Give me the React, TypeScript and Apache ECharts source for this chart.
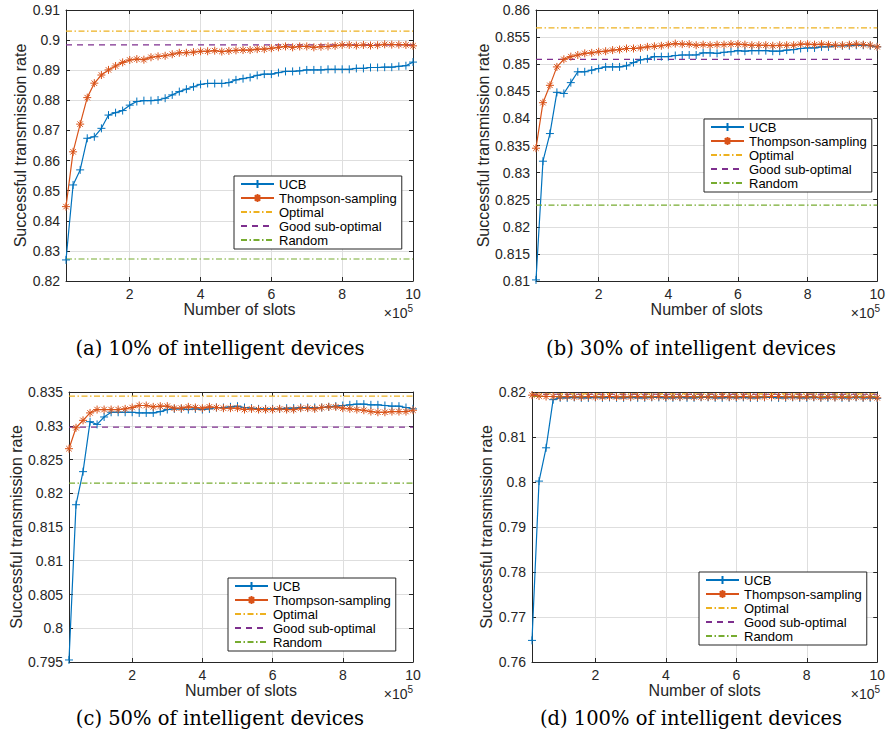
import React, { useEffect, useRef } from 'react';
import * as echarts from 'echarts';

// Number of slots (x values)
const slots = [20000, 40000, 60000, 80000, 100000, 120000, 140000, 160000, 180000, 200000,
  220000, 240000, 260000, 280000, 300000, 320000, 340000, 360000, 380000, 400000,
  420000, 440000, 460000, 480000, 500000, 520000, 540000, 560000, 580000, 600000,
  620000, 640000, 660000, 680000, 700000, 720000, 740000, 760000, 780000, 800000,
  820000, 840000, 860000, 880000, 900000, 920000, 940000, 960000, 980000, 1000000];

const seriesNames = ['UCB', 'Thompson-sampling', 'Optimal', 'Good sub-optimal', 'Random'];
const captions = ['(a) 10% of intelligent devices', '(b) 30% of intelligent devices',
  '(c) 50% of intelligent devices', '(d) 100% of intelligent devices'];

// (a) 10%
const ucbA = [0.827, 0.8519, 0.8569, 0.8674, 0.8679, 0.8707, 0.8751, 0.8759, 0.8766, 0.8784,
  0.8796, 0.8799, 0.8799, 0.8801, 0.8807, 0.8818, 0.8829, 0.8837, 0.8845, 0.8853,
  0.8856, 0.8856, 0.8856, 0.8859, 0.8868, 0.8872, 0.8876, 0.8883, 0.8887, 0.8887,
  0.8892, 0.8896, 0.8896, 0.8898, 0.8901, 0.8901, 0.8901, 0.8903, 0.8903, 0.8903,
  0.8903, 0.8906, 0.8906, 0.8909, 0.8909, 0.891, 0.891, 0.8913, 0.8915, 0.8927];
const tsA = [0.8447, 0.8629, 0.8721, 0.8809, 0.8857, 0.8884, 0.8901, 0.8914, 0.8926, 0.8934,
  0.8937, 0.8935, 0.8943, 0.8946, 0.8948, 0.8953, 0.8958, 0.8958, 0.896, 0.8963,
  0.8963, 0.8965, 0.8962, 0.8964, 0.8966, 0.8967, 0.8967, 0.897, 0.897, 0.8973,
  0.8976, 0.8979, 0.8976, 0.8979, 0.8979, 0.8976, 0.8978, 0.8979, 0.8981, 0.8984,
  0.8984, 0.8982, 0.8984, 0.8982, 0.8983, 0.8986, 0.8985, 0.8985, 0.8984, 0.8981];

// (b) 30%
const ucbB = [0.8102, 0.8321, 0.8372, 0.8448, 0.8446, 0.8466, 0.8486, 0.8486, 0.8489, 0.8492,
  0.8495, 0.8495, 0.8495, 0.8497, 0.8503, 0.8508, 0.851, 0.8514, 0.8514, 0.8514,
  0.8516, 0.8517, 0.8517, 0.8517, 0.8521, 0.8521, 0.852, 0.8522, 0.8523, 0.8525,
  0.8524, 0.8525, 0.8525, 0.8525, 0.8524, 0.8524, 0.8526, 0.8527, 0.8529, 0.853,
  0.853, 0.8532, 0.8532, 0.8534, 0.8534, 0.8534, 0.8535, 0.8535, 0.8534, 0.8532];
const tsB = [0.8345, 0.8429, 0.8461, 0.8495, 0.8509, 0.8514, 0.8517, 0.852, 0.8521, 0.8523,
  0.8524, 0.8526, 0.8527, 0.8529, 0.8529, 0.853, 0.8532, 0.8533, 0.8534, 0.8536,
  0.8538, 0.8537, 0.8537, 0.8535, 0.8536, 0.8535, 0.8536, 0.8536, 0.8537, 0.8537,
  0.8536, 0.8535, 0.8535, 0.8535, 0.8534, 0.8535, 0.8535, 0.8535, 0.8537, 0.8537,
  0.8536, 0.8537, 0.8536, 0.8535, 0.8535, 0.8536, 0.8537, 0.8536, 0.8535, 0.8532];

// (c) 50%
const ucbC = [0.7953, 0.8183, 0.8232, 0.8306, 0.8302, 0.8313, 0.832, 0.832, 0.832, 0.832,
  0.8319, 0.8319, 0.8319, 0.8321, 0.8324, 0.8325, 0.8325, 0.8324, 0.8325, 0.8324,
  0.8325, 0.8327, 0.8327, 0.8328, 0.8329, 0.8327, 0.8326, 0.8325, 0.8325, 0.8325,
  0.8325, 0.8326, 0.8326, 0.8327, 0.8327, 0.8327, 0.8327, 0.8328, 0.8329, 0.833,
  0.8331, 0.8332, 0.8332, 0.8331, 0.8331, 0.833, 0.8329, 0.8329, 0.8327, 0.8325];
const tsC = [0.8266, 0.8297, 0.8308, 0.8319, 0.8324, 0.8324, 0.8324, 0.8324, 0.8325, 0.8327,
  0.833, 0.833, 0.8328, 0.8329, 0.8329, 0.8326, 0.8326, 0.8328, 0.8327, 0.8326,
  0.8328, 0.8327, 0.8326, 0.8326, 0.8326, 0.8324, 0.8325, 0.8324, 0.8324, 0.8324,
  0.8325, 0.8324, 0.8324, 0.8326, 0.8326, 0.8325, 0.8327, 0.8328, 0.8328, 0.8326,
  0.8325, 0.8324, 0.8323, 0.8321, 0.832, 0.832, 0.8321, 0.8321, 0.8321, 0.8323];

// (d) 100%
const ucbD = [0.7648, 0.8002, 0.8076, 0.8183, 0.8187, 0.8187, 0.8188, 0.8187, 0.8187, 0.8188,
  0.8187, 0.8188, 0.8187, 0.8187, 0.8188, 0.8187, 0.8187, 0.8188, 0.8188, 0.8187,
  0.8187, 0.8188, 0.8187, 0.8187, 0.8188, 0.8188, 0.8187, 0.8187, 0.8188, 0.8187,
  0.8188, 0.8187, 0.8187, 0.8188, 0.8188, 0.8187, 0.8187, 0.8188, 0.8187, 0.8187,
  0.8188, 0.8187, 0.8187, 0.8188, 0.8187, 0.8187, 0.8188, 0.8187, 0.8187, 0.8186];
const tsD = [0.8193, 0.8191, 0.819, 0.819, 0.8189, 0.819, 0.8189, 0.8189, 0.819, 0.8189,
  0.8189, 0.819, 0.8189, 0.8189, 0.8189, 0.819, 0.8189, 0.8189, 0.819, 0.8189,
  0.8189, 0.8189, 0.819, 0.8189, 0.8189, 0.8189, 0.8189, 0.819, 0.8189, 0.8189,
  0.819, 0.8189, 0.8189, 0.8189, 0.819, 0.819, 0.8189, 0.8189, 0.8189, 0.8189,
  0.8189, 0.8188, 0.8189, 0.8188, 0.8189, 0.8188, 0.8189, 0.8188, 0.8189, 0.8187];

// constant reference levels per panel (a, b, c, d)
const optimal = [0.903, 0.8567, 0.8344, 0.8196];
const goodSubOptimal = [0.8984, 0.8509, 0.8298, 0.8195];
const randomLevel = [0.8273, 0.824, 0.8215, 0.819];

// y-axis tick ranges per panel
const yMin = [0.82, 0.81, 0.795, 0.76];
const yMax = [0.91, 0.86, 0.835, 0.82];
const yStep = [0.01, 0.005, 0.005, 0.01];
const xTickStep = 200000;

const ucbAll = [ucbA, ucbB, ucbC, ucbD];
const tsAll = [tsA, tsB, tsC, tsD];

// layout
const grids = [
  { left: 66, top: 10, width: 347, height: 271 },
  { left: 536, top: 10, width: 344, height: 271 },
  { left: 69, top: 392, width: 344, height: 270 },
  { left: 532, top: 392, width: 348, height: 270 },
];
const legendPos = [[234, 176], [704, 119], [228, 578], [699, 572]];
const yNameGaps = [37, 45, 44, 36];
const captionPos = [[220, 348], [691, 348], [220, 718], [691, 718]];

const FONT = 'Liberation Sans';
const AXIS = '#262626';
const GRIDC = '#dedede';
const C_UCB = '#0072BD';
const C_TS = '#D95319';
const C_OPT = '#EDB120';
const C_SUB = '#7E2F8E';
const C_RND = '#77AC30';

const PLUS = 'path://M5,0L5,10M0,5L10,5';
const STAR = 'path://M5,0L5,10M0,5L10,5M1.6,1.6L8.4,8.4M1.6,8.4L8.4,1.6';

const fmtY = (v: number) => String(parseFloat(v.toFixed(3)));

export default function App() {
  const ref = useRef<HTMLDivElement>(null);
  useEffect(() => {
    if (!ref.current) return;
    const chart = echarts.init(ref.current, undefined, { renderer: 'svg' });
    const xAxis: any[] = [];
    const yAxis: any[] = [];
    const series: any[] = [];
    const legend: any[] = [];
    const graphic: any[] = [];
    const tickStyle = { inside: true, length: 4, lineStyle: { color: AXIS, width: 1 } };
    const lineAx = { show: true, onZero: false, lineStyle: { color: AXIS, width: 1 } };
    for (let p = 0; p < 4; p++) {
      xAxis.push({
        type: 'value', gridIndex: p, min: slots[0], max: slots[slots.length - 1],
        minInterval: xTickStep, maxInterval: xTickStep,
        axisLine: lineAx, axisTick: tickStyle,
        axisLabel: {
          showMinLabel: false, margin: 6, fontFamily: FONT, fontSize: 14, color: AXIS,
          formatter: (v: number) => String(Math.round(v / 1e5)),
        },
        splitLine: { show: true, lineStyle: { color: GRIDC, width: 1 } },
        name: 'Number of slots', nameLocation: 'middle', nameGap: 19,
        nameTextStyle: { fontFamily: FONT, fontSize: 16, color: AXIS },
      });
      yAxis.push({
        type: 'value', gridIndex: p, min: yMin[p], max: yMax[p], interval: yStep[p],
        axisLine: lineAx, axisTick: tickStyle,
        axisLabel: { margin: 6, fontFamily: FONT, fontSize: 14, color: AXIS, formatter: fmtY },
        splitLine: { show: true, lineStyle: { color: GRIDC, width: 1 } },
        name: 'Successful transmission rate', nameLocation: 'middle', nameGap: yNameGaps[p],
        nameTextStyle: { fontFamily: FONT, fontSize: 16, color: AXIS },
      });
    }
    for (let p = 0; p < 4; p++) {
      xAxis.push({
        type: 'value', gridIndex: p, position: 'top', min: slots[0], max: slots[slots.length - 1],
        minInterval: xTickStep, maxInterval: xTickStep,
        axisLine: lineAx, axisTick: tickStyle, axisLabel: { show: false }, splitLine: { show: false },
      });
      yAxis.push({
        type: 'value', gridIndex: p, position: 'right', min: yMin[p], max: yMax[p], interval: yStep[p],
        axisLine: lineAx, axisTick: tickStyle, axisLabel: { show: false }, splitLine: { show: false },
      });
    }
    for (let p = 0; p < 4; p++) {
      const first = slots[0];
      const last = slots[slots.length - 1];
      const common = { xAxisIndex: p, yAxisIndex: p, silent: true, emphasis: { disabled: true } };
      series.push({
        ...common, type: 'line', name: 'UCB',
        data: slots.map((s, i) => [s, ucbAll[p][i]]),
        symbol: PLUS, symbolSize: 8, showSymbol: true,
        lineStyle: { color: C_UCB, width: 1.2 },
        itemStyle: { color: C_UCB, borderColor: C_UCB, borderWidth: 1 },
      });
      series.push({
        ...common, type: 'line', name: 'Thompson-sampling',
        data: slots.map((s, i) => [s, tsAll[p][i]]),
        symbol: STAR, symbolSize: 8, showSymbol: true,
        lineStyle: { color: C_TS, width: 1.2 },
        itemStyle: { color: C_TS, borderColor: C_TS, borderWidth: 1 },
      });
      series.push({
        ...common, type: 'line', name: 'Optimal',
        data: [[first, optimal[p]], [last, optimal[p]]], symbol: 'none',
        lineStyle: { color: C_OPT, width: 1.2, type: [6, 2.5, 1.5, 2.5] },
        itemStyle: { color: C_OPT },
      });
      series.push({
        ...common, type: 'line', name: 'Good sub-optimal',
        data: [[first, goodSubOptimal[p]], [last, goodSubOptimal[p]]], symbol: 'none',
        lineStyle: { color: C_SUB, width: 1.2, type: [6, 5] },
        itemStyle: { color: C_SUB },
      });
      series.push({
        ...common, type: 'line', name: 'Random',
        data: [[first, randomLevel[p]], [last, randomLevel[p]]], symbol: 'none',
        lineStyle: { color: C_RND, width: 1.2, type: [6, 2.5, 1.5, 2.5] },
        itemStyle: { color: C_RND },
      });
      legend.push({
        left: legendPos[p][0], top: legendPos[p][1], orient: 'vertical',
        data: seriesNames.map((n, i) => (i < 2 ? { name: n } : { name: n, itemStyle: { opacity: 0 } })),
        selectedMode: false,
        itemWidth: 33, itemHeight: 10, itemGap: 0, padding: [1, 5, 2, 6],
        borderColor: AXIS, borderWidth: 1, backgroundColor: '#fff',
        textStyle: { fontFamily: FONT, fontSize: 13, color: '#000', lineHeight: 14 },
      });
      const g = grids[p];
      graphic.push({
        type: 'text', x: g.left + g.width, y: g.top + g.height + 22,
        style: {
          text: '{a|×10}{b|5}',
          align: 'right', verticalAlign: 'top',
          rich: {
            a: { fontFamily: FONT, fontSize: 14, fill: AXIS, verticalAlign: 'bottom' },
            b: { fontFamily: FONT, fontSize: 10, fill: AXIS, verticalAlign: 'top', padding: [0, 0, 7, 0] },
          },
        },
      });
      graphic.push({
        type: 'text', x: captionPos[p][0], y: captionPos[p][1],
        style: {
          text: captions[p], align: 'center', verticalAlign: 'middle',
          fontFamily: 'DejaVu Serif', fontSize: 19.5, fill: '#000',
        },
      });
    }
    chart.setOption({
      animation: false,
      backgroundColor: '#fff',
      grid: grids.map((g) => ({ ...g, show: false })),
      xAxis, yAxis, series, legend, graphic,
    });
    return () => chart.dispose();
  }, []);
  return (
    <div
      ref={ref}
      style={{ position: 'fixed', left: 0, top: 0, width: 888, height: 745, background: '#fff' }}
    />
  );
}
